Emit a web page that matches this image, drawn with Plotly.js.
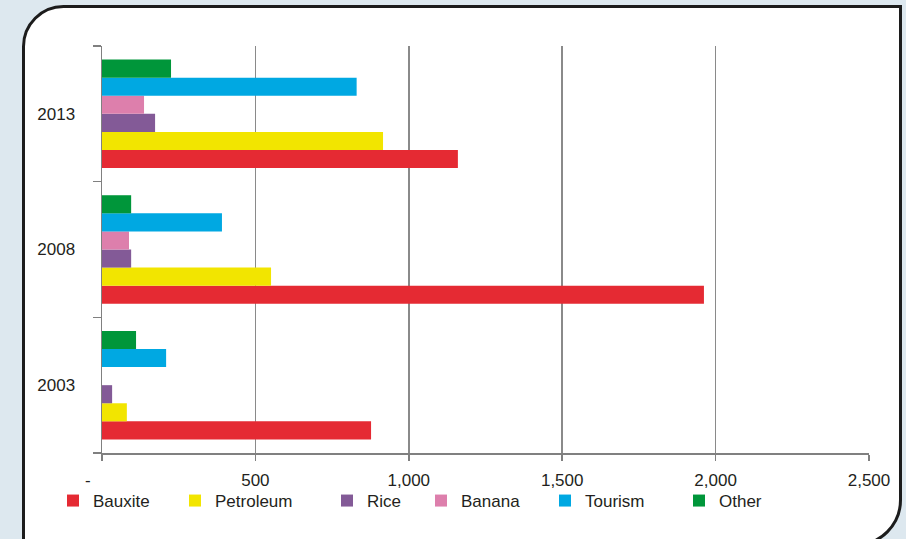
<!DOCTYPE html>
<html>
<head>
<meta charset="utf-8">
<script src="https://cdn.plot.ly/plotly-3.0.1.min.js"></script>
<style>
  html, body { margin: 0; padding: 0; background: #dde8ef; }
  #chart { width: 906px; height: 539px; }
</style>
</head>
<body>
<div id="chart"></div>
<script>
// ---- data ----
const years = ['2003', '2008', '2013'];
const seriesNames = ['Bauxite', 'Petroleum', 'Rice', 'Banana', 'Tourism', 'Other'];
const bauxite   = [877, 1962, 1160];
const petroleum = [81, 551, 916];
const rice      = [33, 95, 173];
const banana    = [0, 88, 137];
const tourism   = [209, 391, 830];
const other     = [111, 95, 225];
const xTickVals = [0, 500, 1000, 1500, 2000, 2500];
const xTickText = ['-\u00a0\u00a0\u00a0\u00a0\u00a0\u00a0', '500', '1,000', '1,500', '2,000', '2,500'];

// ---- styling ----
const colors = ['#e52a33', '#f2e500', '#835a97', '#dd7fac', '#00a8e2', '#00963a'];
const values = [bauxite, petroleum, rice, banana, tourism, other];
const FONT = 'Liberation Sans, Arial, sans-serif';
const TXT = '#231f20';

const W = 906, H = 539;
const M = { l: 102, r: 37, t: 46, b: 86 };
const pw = W - M.l - M.r, ph = H - M.t - M.b;
const px = v => (v - M.l) / pw;
const py = v => (H - M.b - v) / ph;

// legend text start positions (pixels)
const legendTextX = [93, 215, 367, 461, 585, 719];
const legendY = 501;

const traces = seriesNames.map((name, i) => ({
  type: 'bar',
  orientation: 'h',
  name: name,
  y: years,
  x: values[i],
  marker: { color: colors[i], line: { width: 0 } },
  legend: i === 0 ? 'legend' : 'legend' + (i + 1),
  showlegend: true,
  hoverinfo: 'skip'
}));

// rounded panel (top-left and bottom-right corners rounded)
const L = 23.5, T = 6.5, R = 900.5, B = 545, r1 = 40, r2 = 45, k = 0.5523;
const P = (x, y) => px(x) + ',' + py(y);
const panelPath =
  'M' + P(L, T + r1) +
  ' C' + P(L, T + r1 - k * r1) + ' ' + P(L + r1 - k * r1, T) + ' ' + P(L + r1, T) +
  ' L' + P(R, T) +
  ' L' + P(R, B - r2) +
  ' C' + P(R, B - r2 + k * r2) + ' ' + P(R - r2 + k * r2, B) + ' ' + P(R - r2, B) +
  ' L' + P(L, B) + ' Z';

const layout = {
  width: W, height: H,
  margin: M,
  showlegend: true,
  paper_bgcolor: '#dde8ef',
  plot_bgcolor: 'rgba(0,0,0,0)',
  barmode: 'group',
  bargap: 0.2,
  bargroupgap: 0,
  font: { family: FONT, size: 17, color: TXT },
  xaxis: {
    range: [0, 2500],
    tickmode: 'array',
    tickvals: xTickVals,
    ticktext: xTickText,
    showgrid: true,
    gridcolor: '#8a8a8a',
    gridwidth: 1.5,
    zeroline: false,
    showline: true,
    linecolor: '#808080',
    linewidth: 1.5,
    ticks: 'outside',
    ticklen: 6,
    tickwidth: 1.5,
    tickcolor: '#808080',
    ticklabelstandoff: 5,
    tickfont: { family: FONT, size: 17, color: TXT },
    fixedrange: true
  },
  yaxis: {
    type: 'category',
    categoryorder: 'array',
    categoryarray: years,
    tickson: 'boundaries',
    ticks: 'outside',
    ticklen: 8,
    tickwidth: 1.5,
    tickcolor: '#808080',
    showline: true,
    linecolor: '#808080',
    linewidth: 1.5,
    showgrid: false,
    zeroline: false,
    ticklabelstandoff: 22,
    tickfont: { family: FONT, size: 17, color: TXT },
    fixedrange: true
  },
  shapes: [{
    type: 'path',
    xref: 'paper', yref: 'paper',
    path: panelPath,
    fillcolor: '#ffffff',
    line: { color: '#1c1c1c', width: 3 },
    layer: 'below'
  }]
};

seriesNames.forEach((n, i) => {
  const key = i === 0 ? 'legend' : 'legend' + (i + 1);
  layout[key] = {
    visible: true,
    orientation: 'h',
    x: px(legendTextX[i] - 40),
    xanchor: 'left',
    y: py(legendY),
    yanchor: 'middle',
    bgcolor: 'rgba(0,0,0,0)',
    borderwidth: 0,
    font: { family: FONT, size: 17, color: TXT },
    traceorder: 'normal'
  };
});

Plotly.newPlot('chart', traces, layout, { staticPlot: true, displayModeBar: false });
</script>
</body>
</html>
